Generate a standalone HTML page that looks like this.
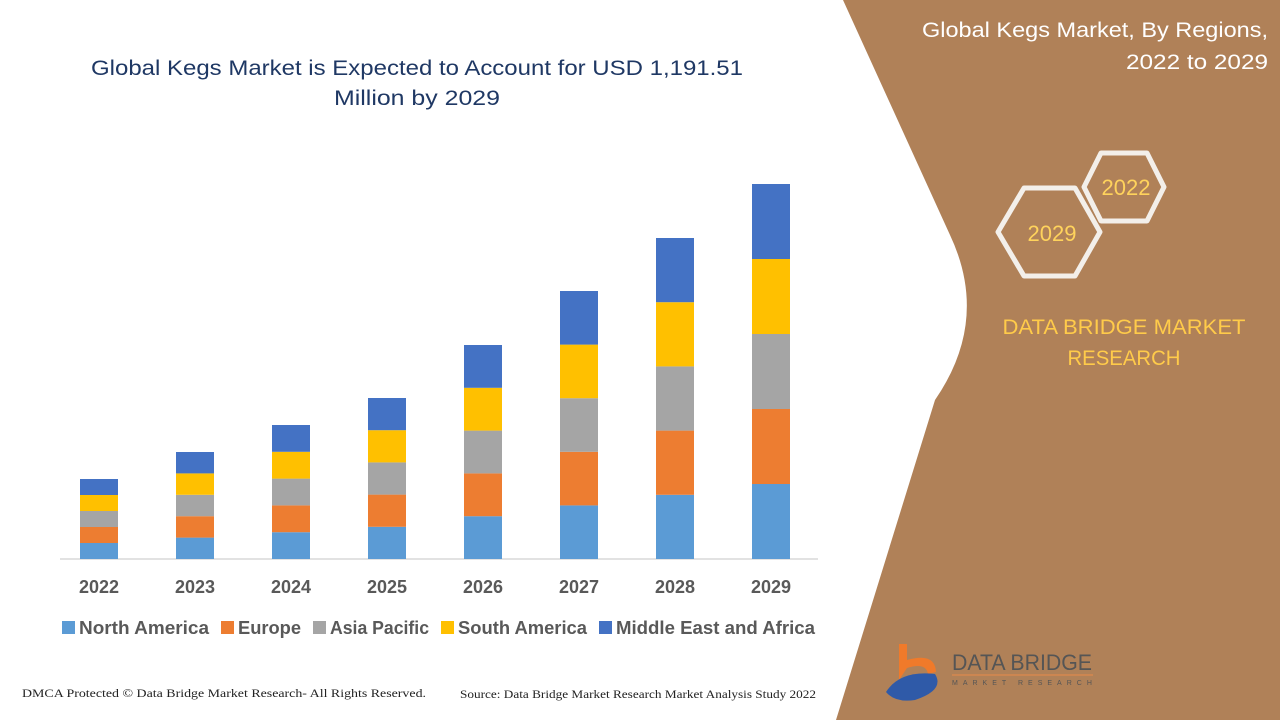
<!DOCTYPE html>
<html><head><meta charset="utf-8"><style>
html,body{margin:0;padding:0;width:1280px;height:720px;overflow:hidden;background:#fff}
</style></head><body>
<svg width="1280" height="720" viewBox="0 0 1280 720" xmlns="http://www.w3.org/2000/svg" font-family="Liberation Sans, sans-serif">
<rect width="1280" height="720" fill="#fff"/>
<path d="M 843 0 L 1280 0 L 1280 720 L 836 720 L 935 400 Q 990 320 950 235 Z" fill="#b08158"/>
<text x="1268" y="37" text-anchor="end" fill="#fff" font-size="21" textLength="346" lengthAdjust="spacingAndGlyphs">Global Kegs Market, By Regions,</text>
<text x="1268" y="69" text-anchor="end" fill="#fff" font-size="21" textLength="142" lengthAdjust="spacingAndGlyphs">2022 to 2029</text>
<polygon points="998,232 1024,188 1075,188 1100,232 1075,276 1024,276" fill="none" stroke="#f3efea" stroke-width="5" stroke-linejoin="round"/>
<polygon points="1084,187 1101,153 1147,153 1164,187 1147,221 1101,221" fill="none" stroke="#f3efea" stroke-width="5" stroke-linejoin="round"/>
<text x="1052" y="241" text-anchor="middle" fill="#ffd35c" font-size="22">2029</text>
<text x="1126" y="195" text-anchor="middle" fill="#ffd35c" font-size="22">2022</text>
<text x="1124" y="334" text-anchor="middle" fill="#ffcb4a" font-size="21" textLength="243" lengthAdjust="spacingAndGlyphs">DATA BRIDGE MARKET</text>
<text x="1124" y="365" text-anchor="middle" fill="#ffcb4a" font-size="21" textLength="113" lengthAdjust="spacingAndGlyphs">RESEARCH</text>
<!-- logo -->
<path d="M 899 644 L 907 644 L 907 660 Q 935 652 936 672 L 928 674 Q 926 662 907 668 L 899 680 Z" fill="#f07a2a"/>
<path d="M 886 692 Q 900 670 935 674 Q 945 690 915 700 Q 895 703 886 692 Z" fill="#2f5aa8"/>
<text x="952" y="670" fill="#555" font-size="22" textLength="140" lengthAdjust="spacingAndGlyphs">DATA BRIDGE</text>
<line x1="952" y1="675" x2="1093" y2="675" stroke="#e88a4a" stroke-width="1"/>
<text x="952" y="685" fill="#555" font-size="7" letter-spacing="5">MARKET RESEARCH</text>
<!-- title -->
<text x="417" y="75" text-anchor="middle" fill="#1f3864" font-size="21" textLength="652" lengthAdjust="spacingAndGlyphs">Global Kegs Market is Expected to Account for USD 1,191.51</text>
<text x="417" y="105" text-anchor="middle" fill="#1f3864" font-size="21" textLength="166" lengthAdjust="spacingAndGlyphs">Million by 2029</text>
<!-- axis -->
<line x1="60" y1="559" x2="818" y2="559" stroke="#d9d9d9" stroke-width="1.5"/>
<g>
<g transform="translate(80,0)"><rect y="543" width="38" height="16" fill="#5b9bd5"/><rect y="527" width="38" height="16" fill="#ed7d31"/><rect y="511" width="38" height="16" fill="#a5a5a5"/><rect y="495" width="38" height="16" fill="#ffc000"/><rect y="479" width="38" height="16" fill="#4472c4"/></g>
<g transform="translate(176,0)"><rect y="537.6" width="38" height="21.4" fill="#5b9bd5"/><rect y="516.2" width="38" height="21.4" fill="#ed7d31"/><rect y="494.8" width="38" height="21.4" fill="#a5a5a5"/><rect y="473.4" width="38" height="21.4" fill="#ffc000"/><rect y="452" width="38" height="21.4" fill="#4472c4"/></g>
<g transform="translate(272,0)"><rect y="532.2" width="38" height="26.8" fill="#5b9bd5"/><rect y="505.4" width="38" height="26.8" fill="#ed7d31"/><rect y="478.6" width="38" height="26.8" fill="#a5a5a5"/><rect y="451.8" width="38" height="26.8" fill="#ffc000"/><rect y="425" width="38" height="26.8" fill="#4472c4"/></g>
<g transform="translate(368,0)"><rect y="526.8" width="38" height="32.2" fill="#5b9bd5"/><rect y="494.6" width="38" height="32.2" fill="#ed7d31"/><rect y="462.4" width="38" height="32.2" fill="#a5a5a5"/><rect y="430.2" width="38" height="32.2" fill="#ffc000"/><rect y="398" width="38" height="32.2" fill="#4472c4"/></g>
<g transform="translate(464,0)"><rect y="516.2" width="38" height="42.8" fill="#5b9bd5"/><rect y="473.4" width="38" height="42.8" fill="#ed7d31"/><rect y="430.6" width="38" height="42.8" fill="#a5a5a5"/><rect y="387.8" width="38" height="42.8" fill="#ffc000"/><rect y="345" width="38" height="42.8" fill="#4472c4"/></g>
<g transform="translate(560,0)"><rect y="505.4" width="38" height="53.6" fill="#5b9bd5"/><rect y="451.8" width="38" height="53.6" fill="#ed7d31"/><rect y="398.2" width="38" height="53.6" fill="#a5a5a5"/><rect y="344.6" width="38" height="53.6" fill="#ffc000"/><rect y="291" width="38" height="53.6" fill="#4472c4"/></g>
<g transform="translate(656,0)"><rect y="494.8" width="38" height="64.2" fill="#5b9bd5"/><rect y="430.6" width="38" height="64.2" fill="#ed7d31"/><rect y="366.4" width="38" height="64.2" fill="#a5a5a5"/><rect y="302.2" width="38" height="64.2" fill="#ffc000"/><rect y="238" width="38" height="64.2" fill="#4472c4"/></g>
<g transform="translate(752,0)"><rect y="484" width="38" height="75" fill="#5b9bd5"/><rect y="409" width="38" height="75" fill="#ed7d31"/><rect y="334" width="38" height="75" fill="#a5a5a5"/><rect y="259" width="38" height="75" fill="#ffc000"/><rect y="184" width="38" height="75" fill="#4472c4"/></g>
</g>
<g fill="#595959" font-size="18" font-weight="bold" text-anchor="middle">
<text x="99" y="593">2022</text><text x="195" y="593">2023</text><text x="291" y="593">2024</text><text x="387" y="593">2025</text><text x="483" y="593">2026</text><text x="579" y="593">2027</text><text x="675" y="593">2028</text><text x="771" y="593">2029</text>
</g>
<g fill="#595959" font-size="18" font-weight="bold">
<rect x="62" y="621" width="13" height="13" fill="#5b9bd5"/><text x="79" y="634" textLength="130" lengthAdjust="spacingAndGlyphs">North America</text>
<rect x="221" y="621" width="13" height="13" fill="#ed7d31"/><text x="238" y="634" textLength="63" lengthAdjust="spacingAndGlyphs">Europe</text>
<rect x="313" y="621" width="13" height="13" fill="#a5a5a5"/><text x="330" y="634" textLength="99" lengthAdjust="spacingAndGlyphs">Asia Pacific</text>
<rect x="441" y="621" width="13" height="13" fill="#ffc000"/><text x="458" y="634" textLength="129" lengthAdjust="spacingAndGlyphs">South America</text>
<rect x="599" y="621" width="13" height="13" fill="#4472c4"/><text x="616" y="634" textLength="199" lengthAdjust="spacingAndGlyphs">Middle East and Africa</text>
</g>
<text x="22" y="697" font-family="Liberation Serif, serif" font-size="12" fill="#222" textLength="404" lengthAdjust="spacingAndGlyphs">DMCA Protected © Data Bridge Market Research- All Rights Reserved.</text>
<text x="460" y="698" font-family="Liberation Serif, serif" font-size="12" fill="#222" textLength="356" lengthAdjust="spacingAndGlyphs">Source: Data Bridge Market Research Market Analysis Study 2022</text>
</svg>
</body></html>
